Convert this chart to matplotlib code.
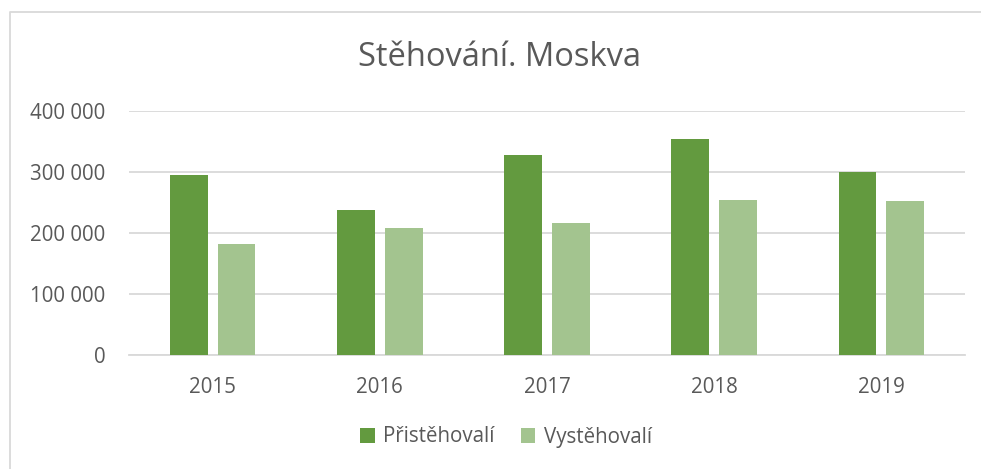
import matplotlib.pyplot as plt
import numpy as np
from matplotlib.lines import Line2D

plt.rcParams['font.family'] = ['Open Sans', 'DejaVu Sans']

years = ['2015', '2016', '2017', '2018', '2019']
prist = [295600, 237800, 327300, 353500, 300000]
vyst = [182600, 208800, 216500, 254700, 252000]
yticks = [0, 100000, 200000, 300000, 400000]

txt = '#595959'
dark = '#639a3f'
light = '#a3c48f'

fig = plt.figure(figsize=(9.81, 4.69), dpi=100)
ax = fig.add_axes([129/981, 114/469, 836/981, 244/469])

x = np.arange(len(years))
w = 0.225
ax.bar(x - 0.143, prist, w, color=dark, label='Přistěhovalí', zorder=3)
ax.bar(x + 0.143, vyst, w, color=light, label='Vystěhovalí', zorder=3)

ax.set_xlim(-0.5, len(years) - 0.5)
ax.set_ylim(0, 400000)
ax.set_yticks(yticks)
ax.set_yticklabels(['{:,}'.format(v).replace(',', ' ') for v in yticks])
ax.set_xticks(x)
ax.set_xticklabels(years)
ax.yaxis.grid(True, color='#d9d9d9', linewidth=1.3, zorder=0)
for s in ['top', 'right', 'left']:
    ax.spines[s].set_visible(False)
ax.spines['bottom'].set_color('#d9d9d9')
ax.spines['bottom'].set_linewidth(1.3)
ax.tick_params(axis='both', length=0, labelsize=14.8, colors=txt)
ax.tick_params(axis='y', pad=17)
ax.tick_params(axis='x', pad=16)

fig.text(500/981, 1 - 57/469, 'Stěhování. Moskva', ha='center', va='center',
         fontsize=23.5, color=txt)

fig.legend(loc='center', bbox_to_anchor=(506/981, 1 - 437/469), ncol=2,
           frameon=False, fontsize=14.8, labelcolor=txt, handlelength=0.7,
           handleheight=0.7, handletextpad=0.4, columnspacing=1.3)

# chart frame: only top and left edges are visible in the crop
fig.lines.append(Line2D([10/981, 10/981, 1], [0, 1 - 12/469, 1 - 12/469],
                        transform=fig.transFigure, color='#d9d9d9', linewidth=1.3))

fig.savefig('out.png', dpi=100)
